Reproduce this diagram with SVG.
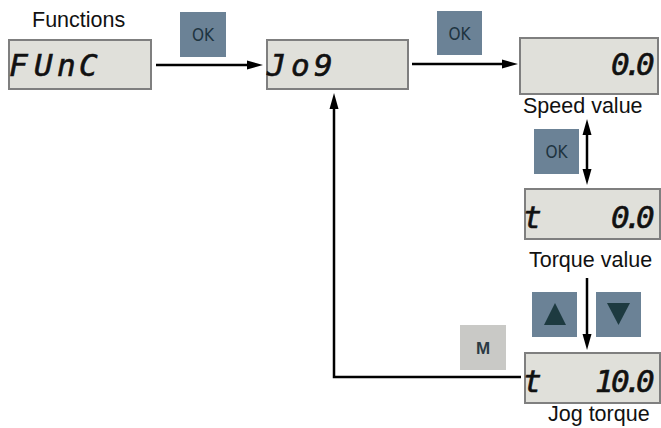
<svg xmlns="http://www.w3.org/2000/svg" width="661" height="428" viewBox="0 0 661 428">
<style>
.lbl{font-family:"Liberation Sans",Arial,sans-serif;font-size:21.5px;fill:#111}
.disp{fill:#e0e0da;stroke:#7f7f7f;stroke-width:2}
.seg{font-family:"DejaVu Sans Mono",monospace;font-style:italic;font-size:31px;fill:#111;stroke:#111;stroke-width:0.6}
.btn{fill:#6b8296}
.btnm{fill:#c9c9c6}
.btxt{font-family:"DejaVu Sans Condensed","DejaVu Sans",sans-serif;font-size:17px;fill:#1e3440;text-anchor:middle}
.mtxt{font-family:"Liberation Sans",Arial,sans-serif;font-weight:bold;font-size:17px;fill:#2b3a44;text-anchor:middle}
.tri{fill:#1d3a40}
.ln{fill:none;stroke:#000;stroke-width:2.5}
</style>
<defs>
<marker id="ah" markerUnits="userSpaceOnUse" markerWidth="16" markerHeight="10" viewBox="0 0 16 10" refX="6" refY="5" orient="auto-start-reverse">
<path d="M0,0.5 L16,5 L0,9.5 z" fill="#000"/>
</marker>
</defs>
<rect width="661" height="428" fill="#fff"/>

<g id="connectors">
<line class="ln" x1="156" y1="65" x2="253" y2="65" marker-end="url(#ah)"/>
<line class="ln" x1="412" y1="64" x2="508" y2="64" marker-end="url(#ah)"/>
<line class="ln" x1="587" y1="129" x2="587" y2="175" marker-start="url(#ah)" marker-end="url(#ah)"/>
<line class="ln" x1="587" y1="278" x2="587" y2="340" marker-end="url(#ah)"/>
<polyline class="ln" points="521,377 334,377 334,103" marker-end="url(#ah)"/>
</g>

<g id="label-functions"><text class="lbl" x="32" y="27">Functions</text></g>

<g id="func">
<rect class="disp" x="9" y="40" width="142" height="49"/>
<text class="seg" x="9 34 57 79" y="76">FUnC</text>
</g>

<g id="ok1">
<rect class="btn" x="180" y="12" width="46" height="45"/>
<text class="btxt" x="203" y="41">OK</text>
</g>

<g id="jog">
<rect class="disp" x="267" y="40" width="141" height="49"/>
<text class="seg" x="267 291 314" y="76">Jo9</text>
</g>

<g id="ok2">
<rect class="btn" x="437" y="11" width="45" height="44"/>
<text class="btxt" x="459.5" y="40">OK</text>
</g>

<g id="speed">
<rect class="disp" x="520" y="38" width="138" height="56"/>
<text class="seg" x="611 624 636" y="75">0.0</text>
<text class="lbl" x="523" y="113">Speed value</text>
</g>

<g id="ok3">
<rect class="btn" x="534" y="129" width="45" height="45"/>
<text class="btxt" x="556.5" y="158">OK</text>
</g>

<g id="torque">
<rect class="disp" x="525" y="189" width="135" height="50"/>
<text class="seg" x="523" y="228">t</text>
<text class="seg" x="611 624 636" y="228">0.0</text>
<text class="lbl" x="529" y="267">Torque value</text>
</g>

<g id="up">
<rect class="btn" x="532" y="292" width="45" height="45"/>
<path class="tri" d="M555,303 L566,325 L544,325 z"/>
</g>

<g id="down">
<rect class="btn" x="596" y="292" width="45" height="45"/>
<path class="tri" d="M607,303 L630,303 L618.5,325 z"/>
</g>

<g id="m">
<rect class="btnm" x="460" y="325" width="46" height="45"/>
<text class="mtxt" x="483" y="354">M</text>
</g>

<g id="jogtorque">
<rect class="disp" x="525" y="353" width="135" height="50"/>
<text class="seg" x="523" y="392">t</text>
<text class="seg" x="595 611 624 636" y="392">10.0</text>
<text class="lbl" x="548" y="421">Jog torque</text>
</g>
</svg>
